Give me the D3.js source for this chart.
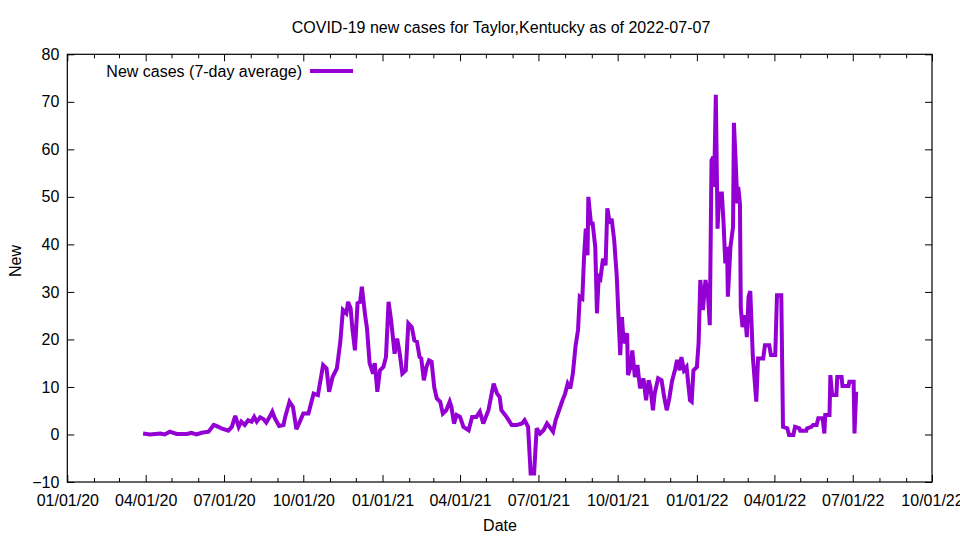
<!DOCTYPE html>
<html>
<head>
<meta charset="utf-8">
<script src="https://cdn.jsdelivr.net/npm/d3@7"></script>
<style>
  body { margin: 0; background: #fff; }
  text { font-family: "Liberation Sans", Arial, sans-serif; }
</style>
</head>
<body>
<div id="chart"></div>
<script>
// values (7-day average of new cases)
const dates = [
  "2020-03-29","2020-04-06","2020-04-18","2020-04-23","2020-04-29","2020-05-07","2020-05-19","2020-05-24",
  "2020-05-30","2020-06-05","2020-06-13","2020-06-19","2020-06-22","2020-06-28","2020-07-06","2020-07-10",
  "2020-07-14","2020-07-18","2020-07-21","2020-07-25","2020-07-29","2020-08-02","2020-08-05","2020-08-08",
  "2020-08-12","2020-08-16","2020-08-19","2020-08-23","2020-08-26","2020-08-29","2020-09-03","2020-09-08",
  "2020-09-10","2020-09-15","2020-09-19","2020-09-23","2020-09-27","2020-10-01","2020-10-07","2020-10-13",
  "2020-10-18","2020-10-24","2020-10-28","2020-10-31","2020-11-04","2020-11-09","2020-11-13","2020-11-16",
  "2020-11-20","2020-11-22","2020-11-25","2020-11-27","2020-11-30","2020-12-03","2020-12-06","2020-12-08",
  "2020-12-12","2020-12-14","2020-12-17","2020-12-21","2020-12-23","2020-12-26","2020-12-29",
  "2021-01-02","2021-01-05","2021-01-08","2021-01-11","2021-01-13","2021-01-15","2021-01-18","2021-01-21",
  "2021-01-24","2021-01-28","2021-01-31","2021-02-04","2021-02-07","2021-02-10","2021-02-13","2021-02-15",
  "2021-02-18","2021-02-21","2021-02-24","2021-02-27","2021-03-02","2021-03-05","2021-03-09","2021-03-12",
  "2021-03-16","2021-03-20","2021-03-22","2021-03-25","2021-03-28","2021-04-01","2021-04-05","2021-04-11",
  "2021-04-15","2021-04-20","2021-04-24","2021-04-28","2021-05-04","2021-05-10","2021-05-14","2021-05-17",
  "2021-05-19","2021-05-25","2021-05-31","2021-06-06","2021-06-12","2021-06-15","2021-06-19","2021-06-22",
  "2021-06-26","2021-06-29","2021-07-03","2021-07-07","2021-07-11","2021-07-14","2021-07-18","2021-07-21",
  "2021-07-25","2021-07-29","2021-08-01","2021-08-04","2021-08-07","2021-08-10","2021-08-13","2021-08-16",
  "2021-08-18","2021-08-21","2021-08-23","2021-08-25","2021-08-27","2021-08-28","2021-08-31","2021-09-02",
  "2021-09-05","2021-09-07","2021-09-09","2021-09-11","2021-09-14","2021-09-17","2021-09-19","2021-09-22",
  "2021-09-24","2021-09-27","2021-09-30","2021-10-02","2021-10-04","2021-10-06","2021-10-08","2021-10-12",
  "2021-10-13","2021-10-16","2021-10-18","2021-10-21","2021-10-24","2021-10-27","2021-10-31","2021-11-03",
  "2021-11-06","2021-11-08","2021-11-11","2021-11-13","2021-11-17","2021-11-21","2021-11-24","2021-11-27",
  "2021-11-30","2021-12-03","2021-12-07","2021-12-09","2021-12-12","2021-12-14","2021-12-17","2021-12-20",
  "2021-12-24","2021-12-26","2021-12-28",
  "2022-01-01","2022-01-03","2022-01-05","2022-01-08","2022-01-11","2022-01-14","2022-01-16","2022-01-18",
  "2022-01-20","2022-01-21","2022-01-23","2022-01-25","2022-01-27","2022-01-30","2022-02-01","2022-02-03",
  "2022-02-05","2022-02-06","2022-02-09","2022-02-12","2022-02-13","2022-02-15","2022-02-17","2022-02-18",
  "2022-02-20","2022-02-21","2022-02-23","2022-02-26","2022-02-28","2022-03-02","2022-03-04","2022-03-07",
  "2022-03-11","2022-03-13","2022-03-19","2022-03-21","2022-03-26","2022-03-28","2022-04-02","2022-04-04",
  "2022-04-09","2022-04-11","2022-04-16","2022-04-18","2022-04-23","2022-04-25","2022-04-30","2022-05-01",
  "2022-05-08","2022-05-09","2022-05-14","2022-05-16","2022-05-20","2022-05-22","2022-05-27","2022-05-29",
  "2022-05-30","2022-06-04","2022-06-05","2022-06-07","2022-06-12","2022-06-13","2022-06-18","2022-06-19",
  "2022-06-26","2022-06-27","2022-07-02","2022-07-03","2022-07-05"
];
const newCases = [
  0.2, 0.0, 0.2, 0.0, 0.6, 0.1, 0.1, 0.35,
  0.0, 0.35, 0.6, 2.0, 1.8, 1.3, 0.8, 1.6,
  3.9, 1.6, 2.7, 2.0, 3.0, 2.7, 3.7, 2.7,
  3.6, 3.2, 2.5, 3.7, 4.8, 3.4, 1.8, 2.0,
  3.7, 6.9, 5.8, 1.1, 2.7, 4.4, 4.4, 8.6,
  8.3, 14.6, 13.9, 9.0, 12.1, 13.9, 19.5, 26.2,
  25.5, 27.9, 26.5, 22.3, 17.7, 27.6, 27.9, 31.1,
  24.8, 22.3, 15.0, 12.8, 15.0, 9.0, 13.5,
  14.2, 16.3, 27.9, 24.0, 20.5, 17.0, 20.2, 17.0,
  12.8, 13.5, 23.4, 22.6, 19.8, 19.5, 16.3, 16.0,
  11.4, 14.2, 15.6, 15.3, 10.0, 7.6, 6.9, 4.4,
  5.1, 6.9, 5.8, 2.3, 4.1, 3.7, 1.6, 0.9,
  3.7, 3.7, 4.8, 2.3, 5.1, 10.7, 8.6, 7.9,
  5.1, 3.7, 2.0, 2.0, 2.3, 3.0, 1.6, -8.2,
  -8.2, 1.3, 0.2, 0.9, 2.3, 1.6, 0.6, 3.0,
  5.1, 7.2, 8.6, 10.7, 9.7, 12.8, 18.4, 22.0,
  29.0, 28.6, 37.4, 43.3, 37.7, 50.0, 44.4, 44.4,
  39.5, 25.5, 33.2, 32.8, 37.0, 35.6, 47.6, 44.4,
  45.4, 40.9, 33.2, 24.7, 16.7, 24.7, 19.2, 21.3,
  12.5, 14.2, 17.7, 12.1, 14.6, 9.7, 11.8, 7.2,
  11.4, 10.0, 5.1, 8.6, 11.8, 11.4, 7.9, 5.1,
  7.6, 11.1, 13.9, 15.7, 13.5, 16.3, 13.5, 14.2,
  7.2, 6.9, 13.5,
  14.2, 19.2, 32.5, 26.2, 32.5, 29.0, 23.0, 57.7,
  58.4, 52.1, 71.5, 43.3, 50.7, 50.7, 44.4, 36.0,
  39.5, 29.0, 39.5, 43.7, 65.6, 57.7, 48.6, 52.1,
  48.6, 26.5, 22.6, 25.1, 20.5, 29.0, 30.2, 16.3,
  6.9, 16.0, 16.0, 18.8, 18.8, 16.7, 16.7, 29.3,
  29.3, 1.6, 1.3, -0.1, -0.1, 1.6, 1.3, 0.8,
  0.8, 1.3, 1.6, 2.0, 2.0, 3.4, 3.4, 0.2,
  4.1, 4.1, 12.5, 8.3, 8.3, 12.1, 12.1, 10.2,
  10.2, 11.1, 11.1, 0.2, 9.0
];
const xTickDates = ["2020-01-01","2020-04-01","2020-07-01","2020-10-01","2021-01-01","2021-04-01",
  "2021-07-01","2021-10-01","2022-01-01","2022-04-01","2022-07-01","2022-10-01"];
const yTicks = [-10, 0, 10, 20, 30, 40, 50, 60, 70, 80];
const seriesLabel = "New cases (7-day average)";
const titleText = "COVID-19 new cases for Taylor,Kentucky as of 2022-07-07";

const width = 960, height = 540;
const margin = {top: 54.3, right: 28, bottom: 58, left: 67.3};
const lineColor = "#9400d3";
const fontSize = "16px";

const parseDate = d3.timeParse("%Y-%m-%d");
const data = dates.map((d, i) => ({date: parseDate(d), value: newCases[i]}));
const majorTicks = xTickDates.map(parseDate);

const svg = d3.select("#chart").append("svg")
    .attr("width", width)
    .attr("height", height);

const x = d3.scaleTime()
    .domain([majorTicks[0], majorTicks[majorTicks.length - 1]])
    .range([margin.left, width - margin.right]);

const y = d3.scaleLinear()
    .domain([-10, 80])
    .range([height - margin.bottom, margin.top]);

// monthly minor ticks between the quarter marks
const minorTicks = d3.timeMonth.range(x.domain()[0], x.domain()[1])
    .filter(d => d.getMonth() % 3 !== 0);
const fmt = d3.timeFormat("%m/%d/%y");

// bottom axis with labels
svg.append("g")
    .attr("transform", `translate(0,${height - margin.bottom})`)
    .call(d3.axisBottom(x).tickValues(majorTicks).tickFormat(fmt).tickSize(-7).tickPadding(12.5));
svg.append("g")
    .attr("transform", `translate(0,${height - margin.bottom})`)
    .call(d3.axisBottom(x).tickValues(minorTicks).tickFormat("").tickSize(-4));
// top mirror ticks
svg.append("g")
    .attr("transform", `translate(0,${margin.top})`)
    .call(d3.axisTop(x).tickValues(majorTicks).tickFormat("").tickSize(-7));
svg.append("g")
    .attr("transform", `translate(0,${margin.top})`)
    .call(d3.axisTop(x).tickValues(minorTicks).tickFormat("").tickSize(-4));

// y axes
svg.append("g")
    .attr("transform", `translate(${margin.left},0)`)
    .call(d3.axisLeft(y).tickValues(yTicks).tickSize(-7).tickPadding(8));
svg.append("g")
    .attr("transform", `translate(${width - margin.right},0)`)
    .call(d3.axisRight(y).tickValues(yTicks).tickFormat("").tickSize(-7));

svg.selectAll(".domain").remove();
svg.selectAll(".tick line").attr("stroke", "#000");
svg.selectAll(".tick text")
    .attr("fill", "#000")
    .style("font-size", fontSize)
    .style("font-family", "'Liberation Sans', Arial, sans-serif");

// border box
svg.append("rect")
    .attr("x", margin.left)
    .attr("y", margin.top)
    .attr("width", width - margin.left - margin.right)
    .attr("height", height - margin.top - margin.bottom)
    .attr("fill", "none")
    .attr("stroke", "#000")
    .attr("stroke-width", 1.2);

// the series
const line = d3.line()
    .x(d => x(d.date))
    .y(d => y(d.value));

svg.append("path")
    .datum(data)
    .attr("fill", "none")
    .attr("stroke", lineColor)
    .attr("stroke-width", 4)
    .attr("stroke-linejoin", "miter")
    .attr("stroke-miterlimit", 3)
    .attr("d", line);

// legend
svg.append("text")
    .attr("x", 302)
    .attr("y", 76.5)
    .attr("text-anchor", "end")
    .style("font-size", fontSize)
    .text(seriesLabel);
svg.append("line")
    .attr("x1", 310).attr("x2", 353)
    .attr("y1", 71).attr("y2", 71)
    .attr("stroke", lineColor)
    .attr("stroke-width", 4);

// title and axis labels
svg.append("text")
    .attr("x", 501)
    .attr("y", 32.5)
    .attr("text-anchor", "middle")
    .style("font-size", fontSize)
    .text(titleText);

svg.append("text")
    .attr("x", 500)
    .attr("y", 531)
    .attr("text-anchor", "middle")
    .style("font-size", fontSize)
    .text("Date");

svg.append("text")
    .attr("transform", "translate(21,261) rotate(-90)")
    .attr("text-anchor", "middle")
    .style("font-size", fontSize)
    .text("New");
</script>
</body>
</html>
